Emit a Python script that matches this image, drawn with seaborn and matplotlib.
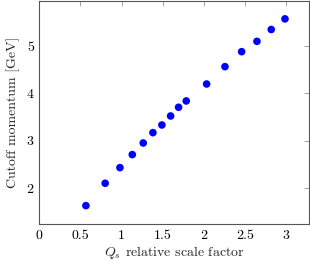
import matplotlib
matplotlib.use("Agg")
import matplotlib.pyplot as plt
import seaborn as sns
import pandas as pd

scale_factor = [0.566, 0.80, 0.98, 1.13, 1.263, 1.381, 1.49, 1.596, 1.693, 1.786,
                2.034, 2.257, 2.46, 2.646, 2.82, 2.987]
cutoff_momentum = [1.633, 2.105, 2.435, 2.71, 2.955, 3.173, 3.335, 3.525, 3.709, 3.842,
                   4.2, 4.566, 4.882, 5.1, 5.35, 5.574]
x_ticks = [0, 0.5, 1, 1.5, 2, 2.5, 3]
x_tick_labels = ["0", "0.5", "1", "1.5", "2", "2.5", "3"]
y_ticks = [2, 3, 4, 5]
y_tick_labels = ["2", "3", "4", "5"]

sns.set_style("white")
plt.rcParams["font.family"] = ["cmr10", "DejaVu Serif"]
plt.rcParams["mathtext.fontset"] = "cm"
plt.rcParams["axes.formatter.use_mathtext"] = True

df = pd.DataFrame({"x": scale_factor, "y": cutoff_momentum})

fig = plt.figure(figsize=(3.1, 2.65), dpi=100)
ax = fig.add_axes([0.127, 0.155, 0.870, 0.841])
sns.scatterplot(data=df, x="x", y="y", ax=ax, color="#0000ff", edgecolor="none",
                s=30, zorder=3)

ax.set_xlim(0, 3.28)
ax.set_ylim(1.247, 5.95)
ax.set_xticks(x_ticks)
ax.set_xticklabels(x_tick_labels)
ax.set_yticks(y_ticks)
ax.set_yticklabels(y_tick_labels)
ax.tick_params(direction="in", top=True, right=True, length=3.5, width=0.5,
               colors="#808080", labelcolor="black", labelsize=10, pad=4)
for sp in ax.spines.values():
    sp.set_color("#555555")
    sp.set_linewidth(0.8)
ax.set_xlabel(r"$Q_s$ relative scale factor", fontsize=10, labelpad=2)
ax.set_ylabel("Cutoff momentum [GeV]", fontsize=10, labelpad=5)

fig.savefig("out.png", dpi=100)
